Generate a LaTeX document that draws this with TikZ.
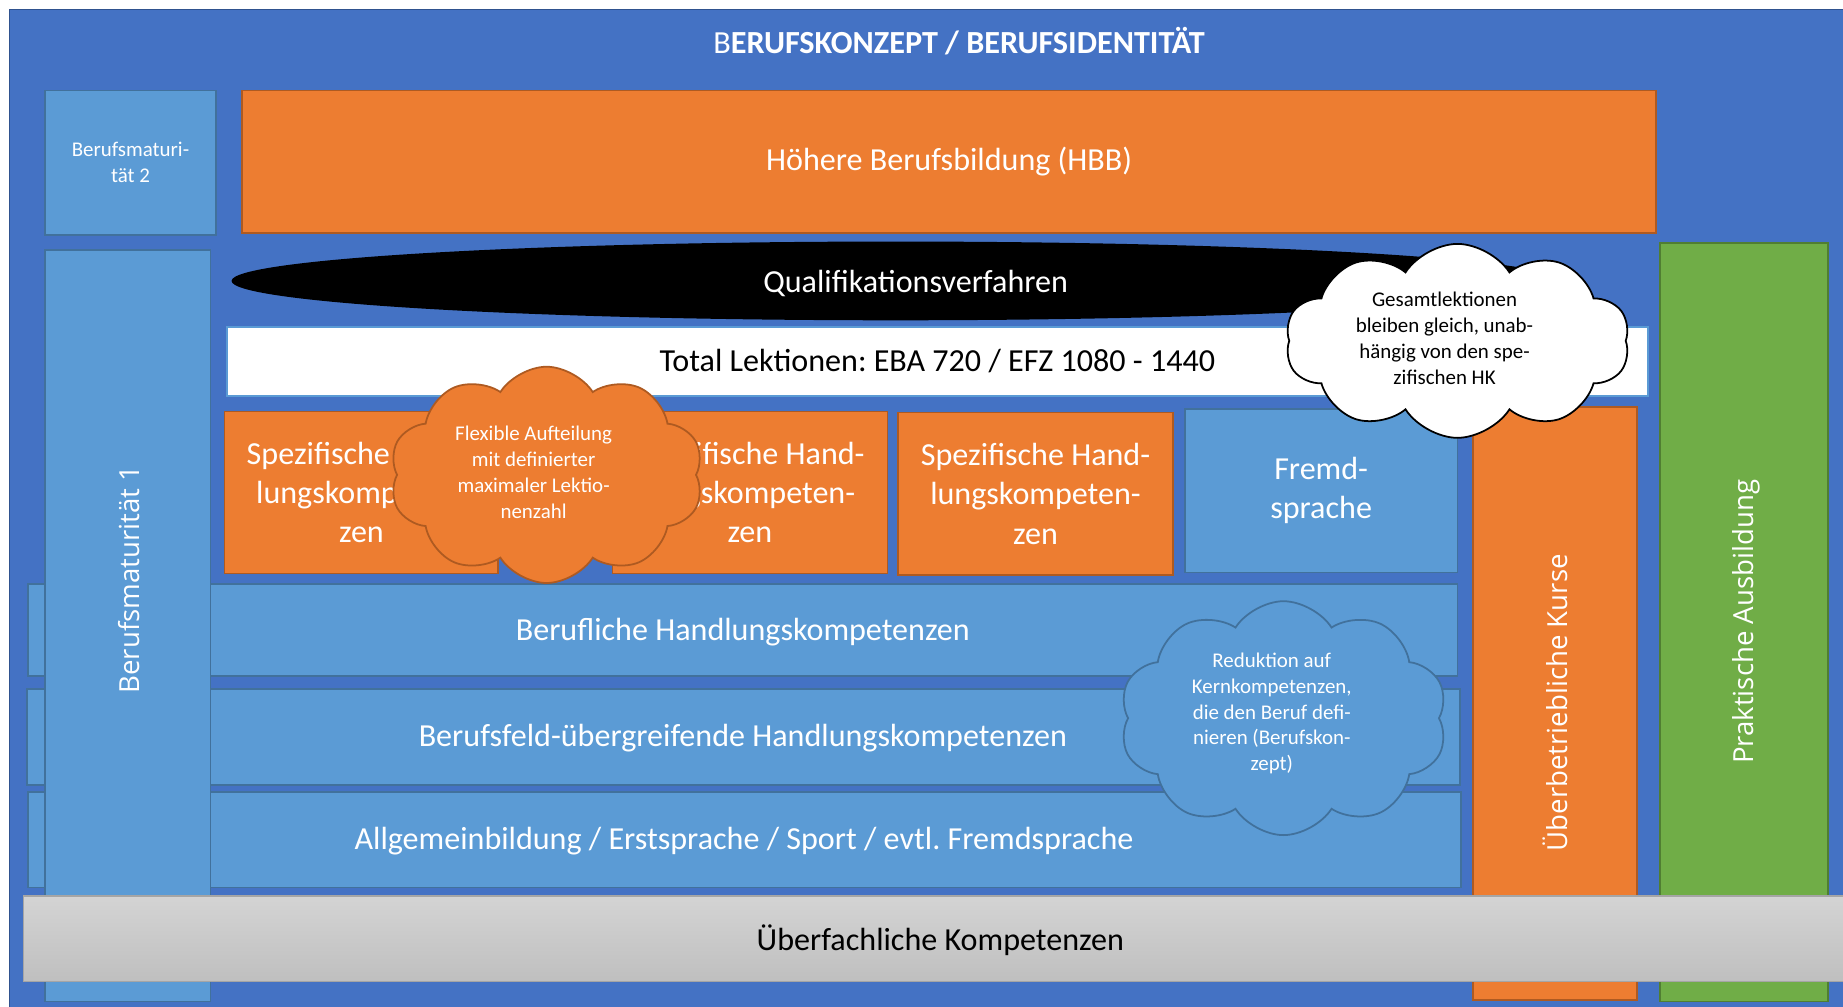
\documentclass[tikz,border=0pt]{standalone}
\usepackage{fontspec}
\setmainfont{Carlito}
\newfontfamily\segfont{Open Sans}
\usetikzlibrary{shapes.geometric,shapes.symbols}
\frenchspacing
\definecolor{frameblue}{HTML}{4472C4}
\definecolor{frameedge}{HTML}{2F528F}
\definecolor{lblue}{HTML}{5B9BD5}
\definecolor{lblueedge}{HTML}{41719C}
\definecolor{orng}{HTML}{ED7D31}
\definecolor{orngedge}{HTML}{AE5A21}
\definecolor{grn}{HTML}{70AD47}
\definecolor{grnedge}{HTML}{507E32}
\definecolor{greytop}{HTML}{D4D4D4}
\definecolor{greybot}{HTML}{BFBFBF}
\definecolor{greyedge}{HTML}{A5A5A5}
\newcommand\mkbox[7]{%
  \pgfmathsetmacro\bxw{#4-#2}\pgfmathsetmacro\bxh{#5-#3}%
  \node[#6, anchor=north west, minimum width=\bxw pt, minimum height=\bxh pt] (#1) at (#2,#3) {#7};}
\newcommand\bigtxt{\fontsize{27.3}{33.5}\selectfont}
\newcommand\smalltxt{\fontsize{17.8}{22}\selectfont}
\newcommand\vtxt{\segfont\fontsize{23.5}{28}\selectfont}
\tikzset{
  x=1pt, y=-1pt,
  base/.style={inner sep=0pt, outer sep=0pt, line width=1.5pt, align=center, text=white},
  bluebox/.style={base, fill=lblue, draw=lblueedge},
  orangebox/.style={base, fill=orng, draw=orngedge},
  greenbox/.style={base, fill=grn, draw=grnedge},
  greybox/.style={base, top color=greytop, bottom color=greybot, draw=greyedge, text=black},
  whitebox/.style={base, fill=white, draw=lblue, line width=2pt, text=black},
  cloudbase/.style={cloud, cloud puffs=10, cloud puff arc=115, aspect=1.5, inner sep=0pt, line width=1.5pt, align=center, font=\smalltxt},
  vlabel/.style={rotate=90, text=white, font=\vtxt, inner sep=0pt},
  txt/.style={inner sep=0pt, align=center},
}
\begin{document}
\begin{tikzpicture}
\clip (0,0) rectangle (1568,856.7);
\fill[white] (0,0) rectangle (1568,856.7);
% frame
\draw[fill=frameblue, draw=frameedge, line width=1.5pt] (8,8) rectangle (1600,880);
\node[txt, text=white] (title) at (816,35) {\fontsize{27.4}{32}\selectfont B\textbf{ERUFSKONZEPT / BERUFSIDENTITÄT}};
% top row
\mkbox{bm2}{38}{77}{184}{200}{bluebox, font=\smalltxt}{Berufsmaturi-\\tät 2}
\mkbox{hbb}{206}{77}{1409}{198}{orangebox, font=\bigtxt}{Höhere Berufsbildung (HBB)}
% ellipse
\node[ellipse, fill=black, minimum width=1130pt, minimum height=67pt, inner sep=0pt] (qv) at (762,239) {};
\node[txt, text=white, font=\bigtxt] (qvtxt) at (779,241) {Qualifikationsverfahren};
% total box
\mkbox{total}{193}{278}{1402}{337}{whitebox, font=\bigtxt}{Total Lektionen: EBA 720 / EFZ 1080 - 1440}
% specific boxes
\mkbox{spez1}{191}{350}{424}{488}{orangebox, font=\bigtxt}{Spezifische Hand-\\lungskompeten-\\zen}
\mkbox{spez2}{521}{350}{755}{488}{orangebox, font=\bigtxt}{Spezifische Hand-\\lungskompeten-\\zen}
\mkbox{spez3}{764}{351}{998}{489}{orangebox, font=\bigtxt}{Spezifische Hand-\\lungskompeten-\\zen}
\mkbox{fremd}{1008}{348}{1240}{487}{bluebox, font=\bigtxt}{Fremd-\\sprache}
% bars
\mkbox{barA}{24}{497}{1240}{575}{bluebox}{}
\mkbox{barB}{23}{586}{1242}{668}{bluebox}{}
\mkbox{barC}{24}{674}{1243}{755}{bluebox}{}
\node[txt, text=white, font=\bigtxt] (barAtxt) at (632,538) {Berufliche Handlungskompetenzen};
\node[txt, text=white, font=\bigtxt] (barBtxt) at (632,628) {Berufsfeld-übergreifende Handlungskompetenzen};
\node[txt, text=white, font=\bigtxt] (barCtxt) at (633,716) {Allgemeinbildung / Erstsprache / Sport / evtl. Fremdsprache};
% verticals
\mkbox{bm1}{38}{213}{179}{852}{bluebox}{}
\node[vlabel] (bm1txt) at (110,493) {Berufsmaturität 1};
\mkbox{uek}{1253}{346}{1393}{851}{orangebox}{}
\node[vlabel] (uektxt) at (1323,598) {Überbetriebliche Kurse};
\mkbox{prak}{1412}{207}{1555}{852}{greenbox}{}
\node[vlabel] (praktxt) at (1486,529) {Praktische Ausbildung};
% grey bar
\mkbox{ueberf}{20}{762}{1600}{835}{greybox}{}
\node[txt, text=black, font=\bigtxt] (ueberftxt) at (800,800) {Überfachliche Kompetenzen};
% clouds
\node[cloudbase, fill=orng, draw=orngedge, minimum width=267pt, minimum height=184pt] (c1) at (465,404) {};
\node[txt, text=white, font=\smalltxt] (c1txt) at (454,402) {Flexible Aufteilung\\mit definierter\\maximaler Lektio-\\nenzahl};
\node[cloudbase, fill=white, draw=black, minimum width=293pt, minimum height=165pt] (c2) at (1240,290) {};
\node[txt, text=black, font=\smalltxt] (c2txt) at (1229,288) {Gesamtlektionen\\bleiben gleich, unab-\\hängig von den spe-\\zifischen HK};
\node[cloudbase, fill=lblue, draw=lblueedge, minimum width=279pt, minimum height=199pt] (c3) at (1092,611) {};
\node[txt, text=white, font=\smalltxt] (c3txt) at (1082,607) {Reduktion auf\\Kernkompetenzen,\\die den Beruf defi-\\nieren (Berufskon-\\zept)};
\end{tikzpicture}
\end{document}
